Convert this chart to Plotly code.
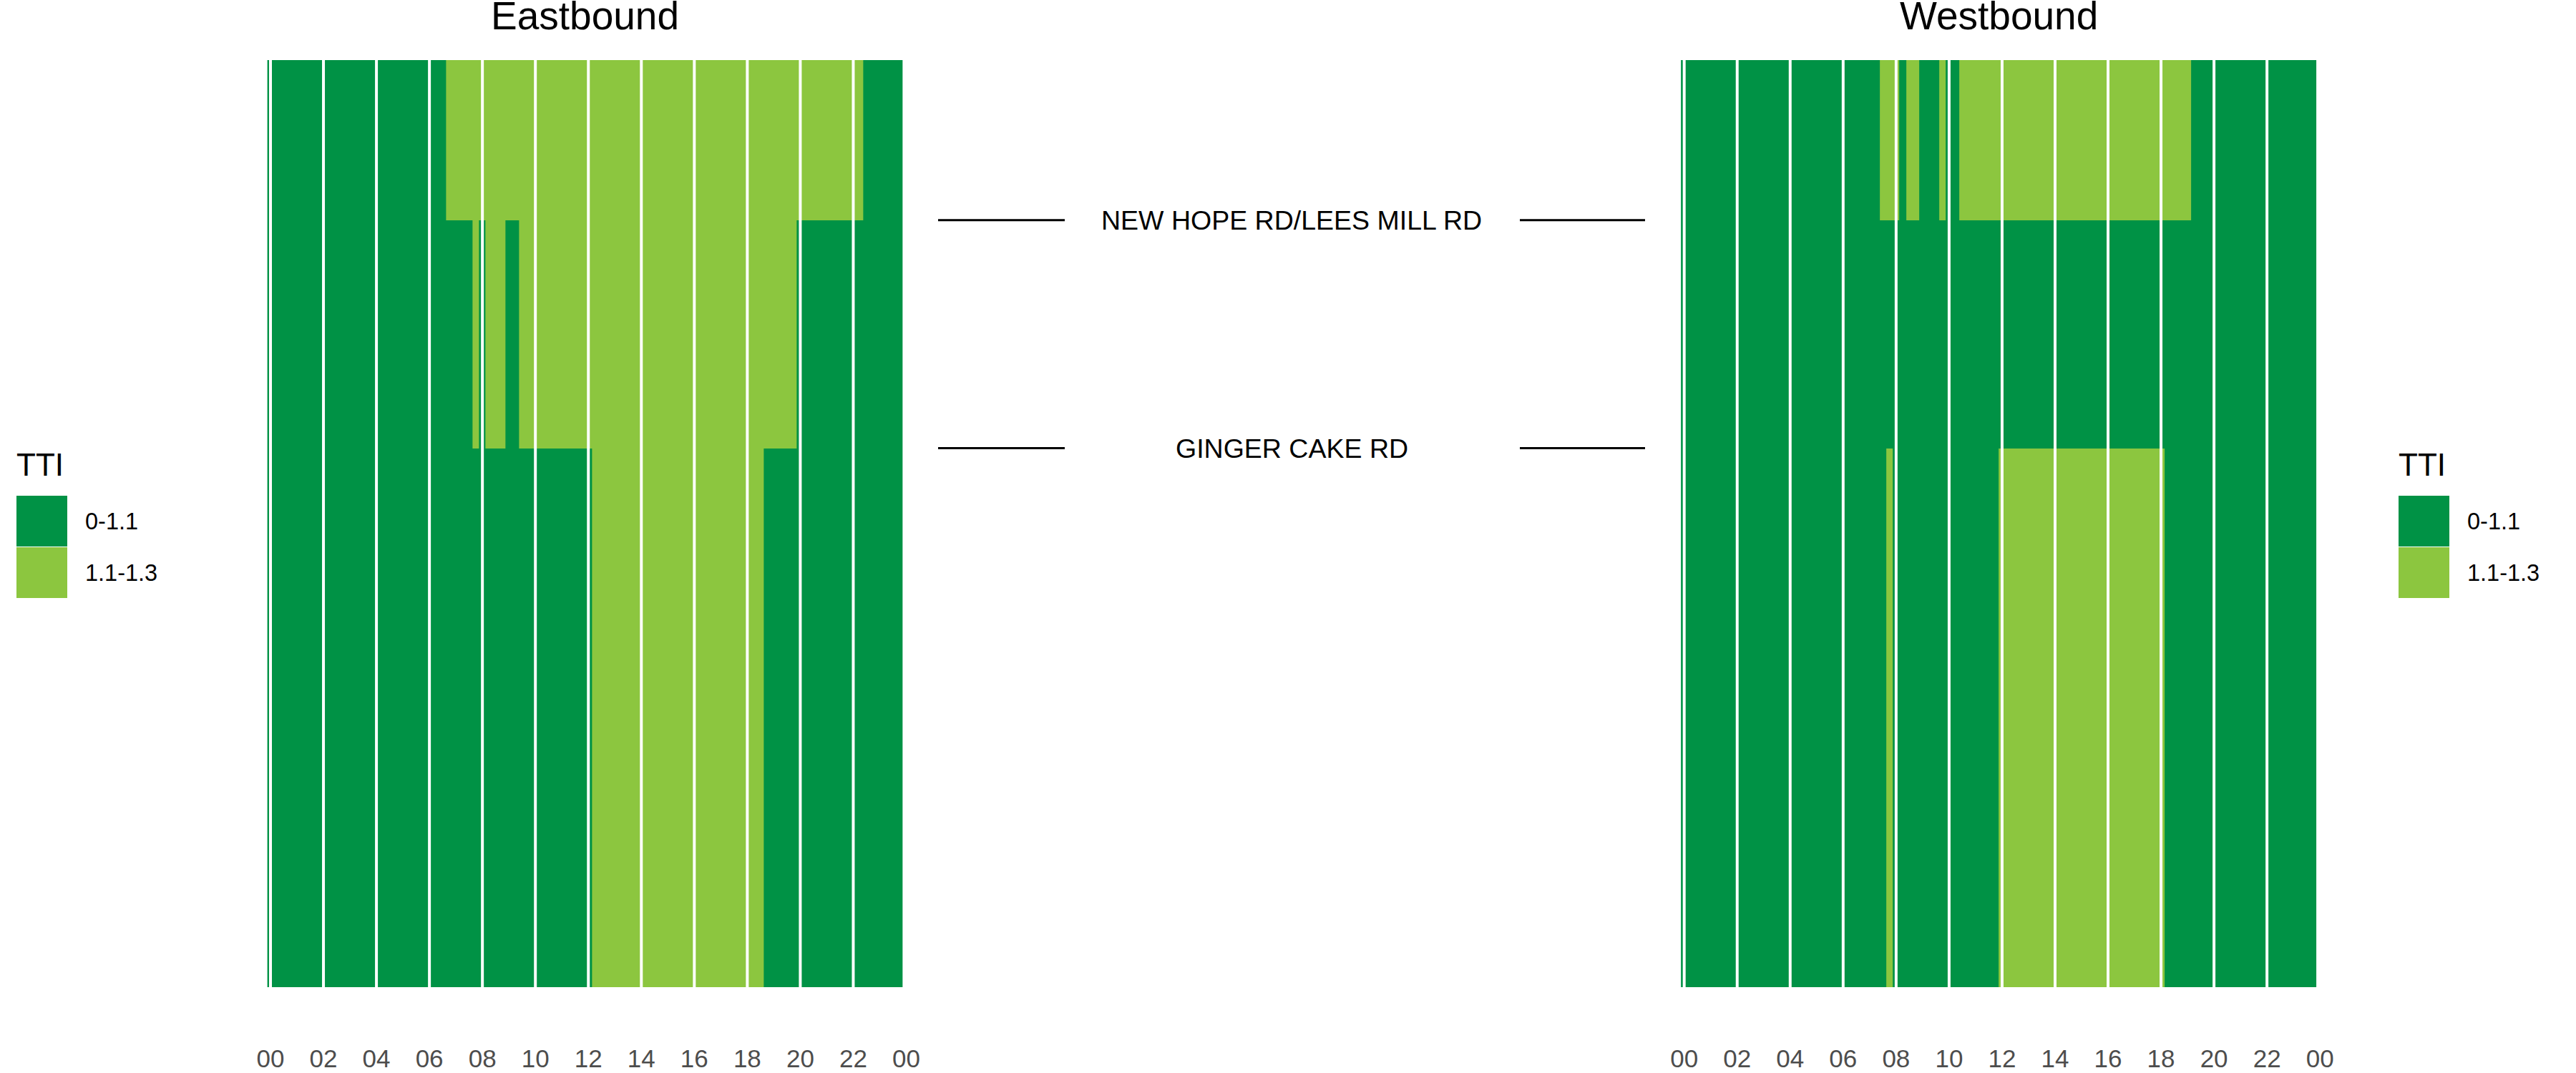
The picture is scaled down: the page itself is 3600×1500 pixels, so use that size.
import plotly.graph_objects as go

# ---------------- data ----------------
# 15-minute time bins, expressed as decimal hours (00:00 ... 23:45)
TIME_BINS = [q / 4 for q in range(96)]

# Corridor segments (top -> bottom), edges in miles from the start of the corridor
SEGMENT_EDGES = [0.0, 0.518, 1.256, 3.0]
CROSS_STREETS = ["NEW HOPE RD/LEES MILL RD", "GINGER CAKE RD"]
CROSS_MILES = [0.518, 1.256]

# TTI class per 15-min bin (0 = "0-1.1", 1 = "1.1-1.3"), 4 bins per hour, one group per hour
EB_TOP = "0000 0000 0000 0000 0000 0000 0001 1111 1111 1111 1111 1111 1111 1111 1111 1111 1111 1111 1111 1111 1111 1111 1100 0000"
EB_MID = "0000 0000 0000 0000 0000 0000 0000 0001 0111 0011 1111 1111 1111 1111 1111 1111 1111 1111 1111 1111 0000 0000 0000 0000"
EB_BOT = "0000 0000 0000 0000 0000 0000 0000 0000 0000 0000 0000 0000 0111 1111 1111 1111 1111 1111 1110 0000 0000 0000 0000 0000"

WB_TOP = "0000 0000 0000 0000 0000 0000 0000 0011 1011 0001 0011 1111 1111 1111 1111 1111 1111 1111 1111 1000 0000 0000 0000 0000"
WB_MID = "0000 0000 0000 0000 0000 0000 0000 0000 0000 0000 0000 0000 0000 0000 0000 0000 0000 0000 0000 0000 0000 0000 0000 0000"
WB_BOT = "0000 0000 0000 0000 0000 0000 0000 0001 0000 0000 0000 0000 1111 1111 1111 1111 1111 1111 1000 0000 0000 0000 0000 0000"

DIRECTIONS = ["Eastbound", "Westbound"]
TTI_LABELS = ["0-1.1", "1.1-1.3"]
TTI_COLORS = ["#009245", "#8CC63F"]

TICK_VALS = [0, 2, 4, 6, 8, 10, 12, 14, 16, 18, 20, 22, 24]
TICK_LABELS = ["00", "02", "04", "06", "08", "10", "12", "14", "16", "18", "20", "22", "00"]


def parse(s):
    return [int(c) for c in s.replace(" ", "")]


Z = {
    "Eastbound": [parse(EB_TOP), parse(EB_MID), parse(EB_BOT)],
    "Westbound": [parse(WB_TOP), parse(WB_MID), parse(WB_BOT)],
}

# ---------------- layout helpers ----------------
W, H = 3600, 1500
FONT = "Liberation Sans, Arial, sans-serif"


def px(x):
    return x / W


def py(y):
    return 1 - y / H


colorscale = [[0, TTI_COLORS[0]], [0.5, TTI_COLORS[0]], [0.5, TTI_COLORS[1]], [1, TTI_COLORS[1]]]

fig = go.Figure()

# panel pixel geometry (pixel of the 00:00 tick, px per hour)
PANELS = {"Eastbound": (378.0, 37.02), "Westbound": (2353.7, 37.02)}
X_RANGE = [-0.125, 24.125]
Y_TOP, Y_BOT = 84, 1380

for i, d in enumerate(DIRECTIONS):
    sfx = "" if i == 0 else str(i + 1)
    fig.add_trace(go.Heatmap(
        x=TIME_BINS, y=SEGMENT_EDGES, z=Z[d],
        colorscale=colorscale, zmin=0, zmax=1, showscale=False,
        xaxis="x" + sfx, yaxis="y" + sfx, hoverinfo="skip",
    ))
    origin, pph = PANELS[d]
    left = origin + X_RANGE[0] * pph
    right = origin + X_RANGE[1] * pph
    fig.layout["xaxis" + sfx] = dict(
        domain=[px(left), px(right)], range=X_RANGE, anchor="y" + sfx,
        tickvals=TICK_VALS, ticktext=TICK_LABELS, showgrid=False, zeroline=False,
        showline=False, ticks="", ticklabelstandoff=76, automargin=False,
        tickfont=dict(family=FONT, size=35, color="#4d4d4d"),
    )
    fig.layout["yaxis" + sfx] = dict(
        domain=[py(Y_BOT), py(Y_TOP)], range=[SEGMENT_EDGES[-1], SEGMENT_EDGES[0]],
        anchor="x" + sfx, showgrid=False, zeroline=False, showline=False,
        showticklabels=False, ticks="", automargin=False,
    )
    # white vertical grid lines drawn over the tiles
    for tv in TICK_VALS:
        fig.add_shape(type="line", xref="x" + sfx, yref="y" + sfx + " domain",
                      x0=tv, x1=tv, y0=0, y1=1, layer="above",
                      line=dict(color="white", width=4))
    # panel title
    fig.add_annotation(text=d, xref="x" + sfx, yref="paper",
                       x=(TIME_BINS[0] + TIME_BINS[-1]) / 2, y=py(22),
                       xanchor="center", yanchor="middle", showarrow=False,
                       font=dict(family=FONT, size=55, color="black"))

# cross-street labels between the panels
for name, mile in zip(CROSS_STREETS, CROSS_MILES):
    for x0, x1 in [(1311, 1488), (2124, 2299)]:
        fig.add_shape(type="line", xref="paper", yref="y", x0=px(x0), x1=px(x1),
                      y0=mile, y1=mile, line=dict(color="black", width=3))
    fig.add_annotation(text=name, xref="paper", yref="y", x=px(1805), y=mile,
                       xanchor="center", yanchor="middle", showarrow=False,
                       font=dict(family=FONT, size=37.5, color="black"))

# legends (left and right)
for lx in [23, 3352]:
    fig.add_annotation(text="TTI", xref="paper", yref="paper", x=px(lx - 2), y=py(649),
                       xanchor="left", yanchor="middle", showarrow=False,
                       font=dict(family=FONT, size=44, color="black"))
    for k, (lab, col) in enumerate(zip(TTI_LABELS, TTI_COLORS)):
        y0 = 693 + k * 72
        fig.add_shape(type="rect", xref="paper", yref="paper",
                      x0=px(lx), x1=px(lx + 71), y0=py(y0), y1=py(y0 + 71),
                      fillcolor=col, line=dict(width=0))
        fig.add_annotation(text=lab, xref="paper", yref="paper", x=px(lx + 94),
                           y=py(y0 + 36), xanchor="left", yanchor="middle", showarrow=False,
                           font=dict(family=FONT, size=32.5, color="black"))

fig.update_layout(
    width=W, height=H, margin=dict(l=0, r=0, t=0, b=0, pad=0, autoexpand=False),
    paper_bgcolor="white", plot_bgcolor="white", showlegend=False,
    font=dict(family=FONT),
)

fig.write_html("out.html")
